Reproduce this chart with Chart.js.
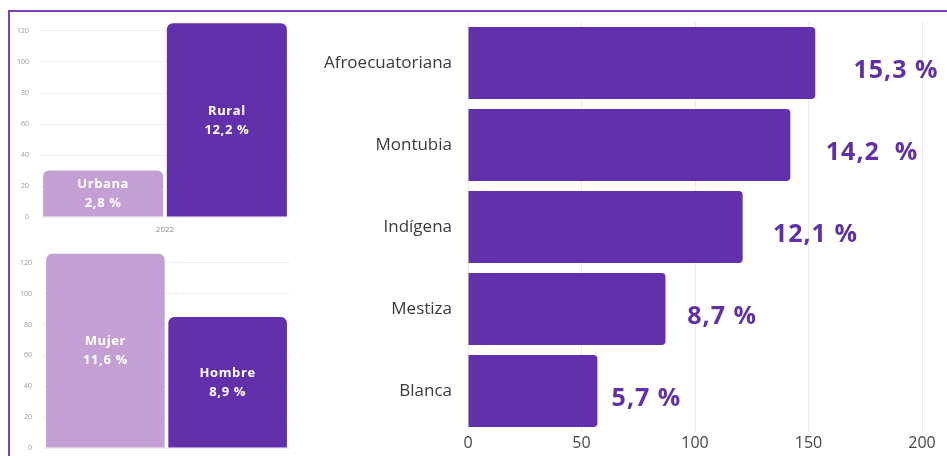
<!DOCTYPE html>
<html>
<head>
<meta charset="utf-8">
<script src="https://cdn.jsdelivr.net/npm/chart.js@4"></script>
<style>
  body { margin: 0; background: #fff; width: 947px; height: 456px; overflow: hidden; position: relative; }
  #frame { position: absolute; left: 8px; top: 10px; width: 960px; height: 470px; border-top: 2px solid #7b3fbe; border-left: 2px solid #7b3fbe; }
  .box { position: absolute; }
</style>
</head>
<body>
<div id="frame"></div>
<div class="box" style="left:9px;top:12px;width:286px;height:226px"><canvas id="areaChart"></canvas></div>
<div class="box" style="left:9px;top:240px;width:286px;height:216px"><canvas id="sexChart"></canvas></div>
<div class="box" style="left:300px;top:12px;width:647px;height:444px"><canvas id="etniaChart"></canvas></div>
<script>
// grafiek links boven: area
let areaYear = ['2022']
let areaNames = ['Urbana', 'Rural']
let areaValues = [30, 125]
let areaText = ['2,8 %', '12,2 %']

// grafiek links onder: sexo
let sexYear = ['2022']
let sexNames = ['Mujer', 'Hombre']
let sexValues = [126, 85]
let sexText = ['11,6 %', '8,9 %']

// grafiek rechts: etnia
let etniaLabels = ['Afroecuatoriana', 'Montubia', 'Indígena', 'Mestiza', 'Blanca']
let etniaValues = [153, 142, 121, 87, 57]
let etniaText = ['15,3 %', '14,2  %', '12,1 %', '8,7 %', '5,7 %']
let xTicks = [0, 50, 100, 150, 200]
let yTicks = [0, 20, 40, 60, 80, 100, 120]

let light = '#c39fd4'
let dark = '#6230aa'

// tekst in de balken (naam + percentage)
let insideLabels = {
  id: 'insideLabels',
  afterDatasetsDraw(chart, args, opts) {
    let ctx = chart.ctx
    ctx.save()
    ctx.fillStyle = '#ffffff'
    ctx.font = 'bold 13px "Open Sans"'
    ctx.letterSpacing = '0.6px'
    ctx.textAlign = 'center'
    ctx.textBaseline = 'middle'
    chart.data.datasets.forEach((ds, i) => {
      let bar = chart.getDatasetMeta(i).data[0]
      let mid = (bar.y + bar.base) / 2
      ctx.fillText(ds.label, bar.x, mid - 9)
      ctx.fillText(opts.text[i], bar.x, mid + 10)
    })
    ctx.restore()
  }
}

// percentage rechts van de balken
let endLabels = {
  id: 'endLabels',
  afterDatasetsDraw(chart, args, opts) {
    let ctx = chart.ctx
    let xs = chart.scales.x
    ctx.save()
    ctx.fillStyle = '#6030a8'
    ctx.font = 'bold 25px "Open Sans"'
    ctx.letterSpacing = '1px'
    ctx.textAlign = 'left'
    ctx.textBaseline = 'middle'
    chart.getDatasetMeta(0).data.forEach((bar, i) => {
      let v = chart.data.datasets[0].data[i]
      ctx.fillText(opts.text[i], xs.getPixelForValue(v * 1.11), bar.y + 8)
    })
    ctx.restore()
  }
}

function smallBars(id, years, names, values, text, pad, yWidth, xHeight) {
  return new Chart(document.getElementById(id), {
    type: 'bar',
    data: {
      labels: years,
      datasets: names.map((n, i) => ({
        label: n,
        data: [values[i]],
        backgroundColor: i === 0 ? light : dark,
        borderRadius: 6,
        barPercentage: 0.97,
        categoryPercentage: 0.99
      }))
    },
    options: {
      responsive: true,
      maintainAspectRatio: false,
      animation: false,
      layout: { padding: pad },
      plugins: { legend: { display: false }, tooltip: { enabled: false }, insideLabels: { text: text } },
      scales: {
        x: {
          grid: { display: false },
          border: { display: false },
          ticks: { color: '#888', font: { size: 8, family: 'Open Sans' }, padding: 0 },
          afterFit: s => { s.height = xHeight; s.paddingLeft = 0; s.paddingRight = 0 }
        },
        y: {
          min: 0, max: 130,
          afterBuildTicks: s => { s.ticks = yTicks.map(v => ({ value: v })) },
          grid: { color: '#f0f0f0', drawTicks: false },
          border: { display: false },
          ticks: { color: '#999', font: { size: 7, family: 'Open Sans' }, padding: 11 },
          afterFit: s => { s.width = yWidth; s.paddingTop = 0; s.paddingBottom = 0 }
        }
      }
    },
    plugins: [insideLabels]
  })
}

smallBars('areaChart', areaYear, areaNames, areaValues, areaText, { top: 3.5, right: 5, left: 0, bottom: 0 }, 31, 21)
smallBars('sexChart', sexYear, sexNames, sexValues, sexText, { top: 7.5, right: 5, left: 0, bottom: 0 }, 34, 8)

new Chart(document.getElementById('etniaChart'), {
  type: 'bar',
  data: {
    labels: etniaLabels,
    datasets: [{
      data: etniaValues,
      backgroundColor: dark,
      borderRadius: 4,
      barPercentage: 0.88,
      categoryPercentage: 1
    }]
  },
  options: {
    indexAxis: 'y',
    responsive: true,
    maintainAspectRatio: false,
    animation: false,
    layout: { padding: { top: 10, right: 25, left: 0, bottom: 0 } },
    plugins: { legend: { display: false }, tooltip: { enabled: false }, endLabels: { text: etniaText } },
    scales: {
      x: {
        min: 0, max: 200,
        afterBuildTicks: s => { s.ticks = xTicks.map(v => ({ value: v })) },
        grid: { color: '#ebebeb', drawTicks: false },
        border: { display: false },
        ticks: { color: '#444', font: { size: 16, family: 'Open Sans' }, padding: 2 },
        afterFit: s => { s.height = 24; s.paddingLeft = 0; s.paddingRight = 0 }
      },
      y: {
        grid: { display: false },
        border: { display: false },
        ticks: { color: '#3a3a3a', font: { size: 17, family: 'Open Sans' }, padding: 8 },
        afterFit: s => { s.width = 168; s.paddingTop = 0; s.paddingBottom = 0 }
      }
    }
  },
  plugins: [endLabels]
})
</script>
</body>
</html>
